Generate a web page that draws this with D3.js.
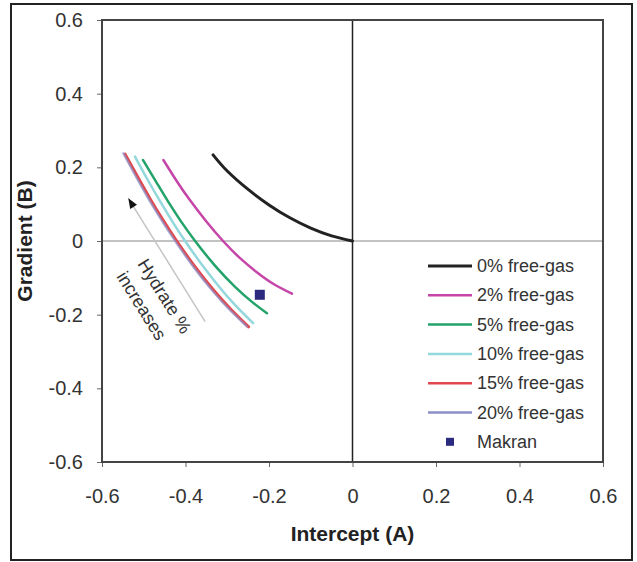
<!DOCTYPE html>
<html>
<head>
<meta charset="utf-8">
<script src="https://cdn.jsdelivr.net/npm/d3@7"></script>
<style>
  body { margin: 0; background: #fff; }
  svg { font-family: "Liberation Sans", Arial, sans-serif; }
</style>
</head>
<body>
<div class="draw"></div>
<script>
// series: [intercept A, gradient B]
var gas0 = [[-0.334, 0.234], [-0.30, 0.19], [-0.25, 0.14], [-0.20, 0.098], [-0.15, 0.063], [-0.10, 0.035], [-0.05, 0.014], [0, 0]];
var gas2 = [[-0.453, 0.22], [-0.42, 0.161], [-0.39, 0.112], [-0.35, 0.053], [-0.31, 0], [-0.27, -0.046], [-0.23, -0.084], [-0.19, -0.116], [-0.145, -0.143]];
var gas5 = [[-0.502, 0.22], [-0.47, 0.16], [-0.44, 0.104], [-0.41, 0.052], [-0.377, 0], [-0.33, -0.066], [-0.28, -0.126], [-0.24, -0.166], [-0.205, -0.196]];
var gas10 = [[-0.521, 0.229], [-0.491, 0.167], [-0.461, 0.108], [-0.431, 0.052], [-0.401, 0], [-0.361, -0.064], [-0.321, -0.122], [-0.281, -0.174], [-0.238, -0.223]];
var gas15 = [[-0.545, 0.236], [-0.515, 0.175], [-0.485, 0.115], [-0.455, 0.059], [-0.421, 0], [-0.376, -0.072], [-0.331, -0.136], [-0.291, -0.186], [-0.249, -0.233]];
var gas20 = [[-0.549, 0.238], [-0.519, 0.175], [-0.489, 0.115], [-0.459, 0.059], [-0.425, 0], [-0.38, -0.072], [-0.335, -0.136], [-0.295, -0.186], [-0.253, -0.232]];
var makran = [[-0.222, -0.146]];

var seriesNames = ['0% free-gas', '2% free-gas', '5% free-gas', '10% free-gas', '15% free-gas', '20% free-gas'];
var seriesData = [gas0, gas2, gas5, gas10, gas15, gas20];
var seriesColors = ['#222222', '#c545a8', '#23a36a', '#93d8dc', '#e0484e', '#8c8fc6'];

var ticks = [-0.6, -0.4, -0.2, 0, 0.2, 0.4, 0.6];
var arrowFrom = [-0.353, -0.219];
var arrowTo = [-0.537, 0.116];

var width = 637, height = 562;
var svg = d3.select(".draw").append("svg")
    .attr("width", width)
    .attr("height", height);

// outer frame
svg.append("rect")
    .attr("x", 11).attr("y", 4)
    .attr("width", 621).attr("height", 556)
    .attr("fill", "none")
    .attr("stroke", "#222")
    .attr("stroke-width", 2);

var x = d3.scaleLinear().domain([-0.6, 0.6]).range([102, 603]);
var y = d3.scaleLinear().domain([-0.6, 0.6]).range([462, 20]);

// plain hyphen like the original, not unicode minus
var fmt = function (d) { return d === 0 ? "0" : d.toFixed(1); };

var xaxis = svg.append('g')
    .attr("transform", "translate(0,462)")
    .call(d3.axisBottom(x).tickValues(ticks).tickFormat(fmt).tickSize(5).tickPadding(22));
var yaxis = svg.append('g')
    .attr("transform", "translate(102,0)")
    .call(d3.axisLeft(y).tickValues(ticks).tickFormat(fmt).tickSize(5).tickPadding(14));

[xaxis, yaxis].forEach(function (g) {
    g.select(".domain").remove();
    g.selectAll(".tick line").attr("stroke", "#666");
    g.selectAll(".tick text")
        .attr("fill", "#333")
        .style("font-size", "20px")
        .style("font-family", "Liberation Sans, Arial, sans-serif");
});

// zero lines
svg.append("line")
    .attr("x1", x(-0.6)).attr("x2", x(0.6))
    .attr("y1", y(0)).attr("y2", y(0))
    .attr("stroke", "#888").attr("stroke-width", 1.2);
svg.append("line")
    .attr("x1", x(0)).attr("x2", x(0))
    .attr("y1", y(0.6)).attr("y2", y(-0.6))
    .attr("stroke", "#222").attr("stroke-width", 1.5);

// plot frame
svg.append("rect")
    .attr("x", x(-0.6)).attr("y", y(0.6))
    .attr("width", x(0.6) - x(-0.6)).attr("height", y(-0.6) - y(0.6))
    .attr("fill", "none")
    .attr("stroke", "#444")
    .attr("stroke-width", 2);

// arrow
svg.append("line")
    .attr("x1", x(arrowFrom[0])).attr("y1", y(arrowFrom[1]))
    .attr("x2", x(arrowTo[0])).attr("y2", y(arrowTo[1]))
    .attr("stroke", "#c4c4c4").attr("stroke-width", 1.5);
var ang = Math.atan2(y(arrowTo[1]) - y(arrowFrom[1]), x(arrowTo[0]) - x(arrowFrom[0])) * 180 / Math.PI;
svg.append("path")
    .attr("d", "M0,0 L-10,-4 L-10,4 Z")
    .attr("fill", "#111")
    .attr("transform", "translate(" + x(arrowTo[0]) + "," + y(arrowTo[1]) + ") rotate(" + ang + ")");

svg.append("text")
    .attr("transform", "translate(" + x(-0.453) + "," + y(-0.152) + ") rotate(58)")
    .attr("text-anchor", "middle")
    .attr("dominant-baseline", "middle")
    .attr("fill", "#333")
    .style("font-size", "18px")
    .text("Hydrate %");
svg.append("text")
    .attr("transform", "translate(" + x(-0.508) + "," + y(-0.178) + ") rotate(58)")
    .attr("text-anchor", "middle")
    .attr("dominant-baseline", "middle")
    .attr("fill", "#333")
    .style("font-size", "18px")
    .text("increases");

// curves
var line = d3.line()
    .x(function (d) { return x(d[0]); })
    .y(function (d) { return y(d[1]); })
    .curve(d3.curveNatural);

var widths = [3, 2.5, 2.5, 2.5, 3, 2.2];
seriesData.forEach(function (s, i) {
    svg.append("path")
        .datum(s)
        .attr("d", line)
        .attr("fill", "none")
        .attr("stroke", seriesColors[i])
        .attr("stroke-width", widths[i])
        .attr("stroke-linecap", "round")
        .attr("opacity", i === 5 ? 0.75 : 1);
});

svg.selectAll(".makran")
    .data(makran)
    .enter().append("rect")
    .attr("class", "makran")
    .attr("x", function (d) { return x(d[0]) - 5; })
    .attr("y", function (d) { return y(d[1]) - 5; })
    .attr("width", 10).attr("height", 10)
    .attr("fill", "#2b2a7e");

// legend
var legend = svg.append("g").attr("transform", "translate(428,266)");
seriesNames.forEach(function (n, i) {
    var gy = i * 29.3;
    legend.append("line")
        .attr("x1", 0).attr("x2", 44)
        .attr("y1", gy).attr("y2", gy)
        .attr("stroke", seriesColors[i])
        .attr("stroke-width", i === 0 ? 3 : 2.5);
    legend.append("text")
        .attr("x", 49).attr("y", gy)
        .attr("dominant-baseline", "central")
        .attr("fill", "#333")
        .style("font-size", "18px")
        .text(n);
});
legend.append("rect")
    .attr("x", 18).attr("y", 6 * 29.3 - 4)
    .attr("width", 8).attr("height", 8)
    .attr("fill", "#2b2a7e");
legend.append("text")
    .attr("x", 49).attr("y", 6 * 29.3)
    .attr("dominant-baseline", "central")
    .attr("fill", "#333")
    .style("font-size", "18px")
    .text("Makran");

// axis titles
svg.append("text")
    .attr("x", x(0)).attr("y", 541)
    .attr("text-anchor", "middle")
    .attr("fill", "#222")
    .style("font-size", "21px")
    .style("font-weight", "bold")
    .text("Intercept (A)");
svg.append("text")
    .attr("transform", "translate(32," + y(0) + ") rotate(-90)")
    .attr("text-anchor", "middle")
    .attr("fill", "#222")
    .style("font-size", "21px")
    .style("font-weight", "bold")
    .text("Gradient (B)");
</script>
</body>
</html>
